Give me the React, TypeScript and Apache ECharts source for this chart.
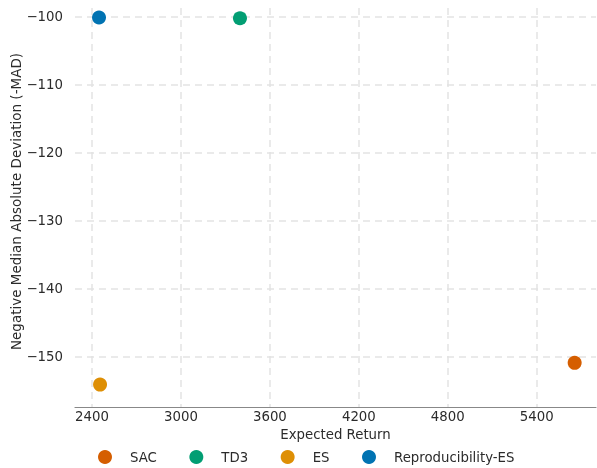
import React, { useEffect, useRef } from "react";
import * as echarts from "echarts";

const seriesNames = ["SAC", "TD3", "ES", "Reproducibility-ES"];
const seriesColors = ["#d55e00", "#029e73", "#de8f05", "#0173b2"];
const expectedReturn = [5656, 3398, 2454, 2447];
const negMAD = [-150.9, -100.2, -154.1, -100.1];
const xTicks = [2400, 3000, 3600, 4200, 4800, 5400];
const yTicks = [-150, -140, -130, -120, -110, -100];
const xTitle = "Expected Return";
const yTitle = "Negative Median Absolute Deviation (-MAD)";

const fmt = (v: number) => (v < 0 ? "\u2212" + Math.abs(v) : String(v));

export default function App() {
  const ref = useRef<HTMLDivElement>(null);
  useEffect(() => {
    if (!ref.current) return;
    const chart = echarts.init(ref.current, undefined, { renderer: "svg" });
    const font = "'DejaVu Sans', sans-serif";
    const fs = 13.3;
    const txt = "#2b2b2b";
    const gridLine = { show: true, lineStyle: { color: "#e3e3e3", width: 1.5, type: [7, 5] as any } };
    chart.setOption({
      animation: false,
      textStyle: { fontFamily: font },
      grid: { left: 75, right: 1, top: 8, bottom: 61, containLabel: false, outerBoundsMode: "none" },
      legend: {
        left: 93,
        top: 445,
        icon: "circle",
        itemWidth: 14,
        itemHeight: 14,
        itemGap: 32.5,
        textStyle: { fontSize: fs, color: txt, fontFamily: font, padding: [0, 0, 0, 13] },
        data: seriesNames,
      },
      graphic: [
        {
          type: "text",
          x: 16,
          y: 201.5,
          rotation: Math.PI / 2,
          style: {
            text: yTitle,
            fontSize: 13.5,
            fill: txt,
            fontFamily: font,
            align: "center",
            verticalAlign: "middle",
          },
        },
      ],
      xAxis: {
        type: "value",
        min: 2285,
        max: 5800,
        name: xTitle,
        nameLocation: "middle",
        nameGap: 14,
        nameTextStyle: { fontSize: fs, color: txt, fontFamily: font },
        axisLine: { show: true, onZero: false, lineStyle: { color: "#888", width: 1.2 } },
        axisTick: { show: false, customValues: xTicks },
        axisLabel: { customValues: xTicks, fontSize: fs, color: txt, fontFamily: font, margin: 3, formatter: (v: number) => fmt(v) },
        splitLine: gridLine,
      },
      yAxis: {
        type: "value",
        min: -157.4,
        max: -98.7,
        axisLine: { show: false },
        axisTick: { show: false, customValues: yTicks },
        axisLabel: { customValues: yTicks, fontSize: fs, color: txt, fontFamily: font, margin: 12, formatter: (v: number) => fmt(v) },
        splitLine: gridLine,
      },
      series: seriesNames.map((n, i) => ({
        name: n,
        type: "scatter",
        symbolSize: 14,
        itemStyle: { color: seriesColors[i], opacity: 1 },
        data: [[expectedReturn[i], negMAD[i]]],
      })),
    });
    return () => chart.dispose();
  }, []);
  return <div ref={ref} style={{ position: "fixed", left: 0, top: 0, width: 597, height: 468 }} />;
}
